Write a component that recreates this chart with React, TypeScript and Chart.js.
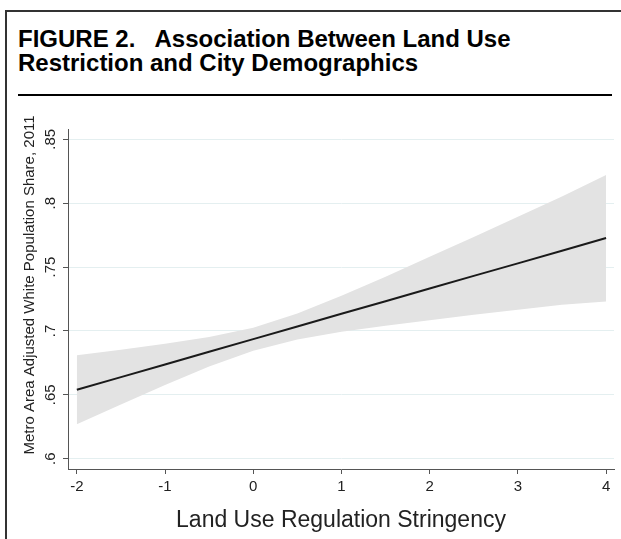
import React, { useEffect, useRef } from "react";
import { Chart, registerables } from "chart.js";

Chart.register(...registerables);

if (typeof document !== "undefined") {
  document.body.style.margin = "0";
}

const xValues = [-2, -1.5, -1, -0.5, 0, 0.5, 1, 1.5, 2, 2.5, 3, 3.5, 4];
const fitted = [0.654, 0.6639, 0.6738, 0.6837, 0.6936, 0.7035, 0.7134, 0.7233, 0.7332, 0.7431, 0.7529, 0.7628, 0.7727];
const ciLower = [0.627, 0.6425, 0.6577, 0.6722, 0.6846, 0.6933, 0.6993, 0.7041, 0.7084, 0.7126, 0.7165, 0.7205, 0.723];
const ciUpper = [0.681, 0.6853, 0.6899, 0.6953, 0.7026, 0.7137, 0.7275, 0.7425, 0.758, 0.7736, 0.7893, 0.8051, 0.822];

const xTicks = [-2, -1, 0, 1, 2, 3, 4];
const xTickLabels = ["-2", "-1", "0", "1", "2", "3", "4"];
const yTicks = [0.6, 0.65, 0.7, 0.75, 0.8, 0.85];
const yTickLabels = [".6", ".65", ".7", ".75", ".8", ".85"];

const titleLine1 = "FIGURE 2.   Association Between Land Use";
const titleLine2 = "Restriction and City Demographics";
const xTitle = "Land Use Regulation Stringency";
const yTitle = "Metro Area Adjusted White Population Share, 2011";

const FONT = "'Liberation Sans', Arial, Helvetica, sans-serif";

export default function App() {
  const ref = useRef<HTMLCanvasElement>(null);

  useEffect(() => {
    document.body.style.margin = "0";
    const canvas = ref.current;
    if (!canvas) return;

    const yLabelPlugin = {
      id: "rotatedYLabels",
      afterDraw(chart: any) {
        const c = chart.ctx;
        const ys = chart.scales.y;
        c.save();
        c.fillStyle = "#222";
        c.textAlign = "center";
        c.textBaseline = "middle";
        c.font = `15px ${FONT}`;
        yTicks.forEach((v, i) => {
          const py = ys.getPixelForValue(v);
          c.save();
          c.translate(51, py);
          c.rotate(-Math.PI / 2);
          c.fillText(yTickLabels[i], 0, 0);
          c.restore();
        });
        c.font = `15px ${FONT}`;
        c.save();
        c.translate(30, 185);
        c.rotate(-Math.PI / 2);
        c.fillText(yTitle, 0, 0);
        c.restore();
        c.restore();
      },
    };

    const chart = new Chart(canvas, {
      type: "line",
      data: {
        datasets: [
          {
            label: "Fitted",
            data: xValues.map((x, i) => ({ x, y: fitted[i] })),
            borderColor: "#1a1a1a",
            borderWidth: 2,
            pointRadius: 0,
            fill: false,
            tension: 0,
          },
          {
            label: "CI upper",
            data: xValues.map((x, i) => ({ x, y: ciUpper[i] })),
            borderWidth: 0,
            borderColor: "rgba(0,0,0,0)",
            backgroundColor: "#e3e3e3",
            pointRadius: 0,
            fill: "+1",
            tension: 0,
          },
          {
            label: "CI lower",
            data: xValues.map((x, i) => ({ x, y: ciLower[i] })),
            borderWidth: 0,
            borderColor: "rgba(0,0,0,0)",
            pointRadius: 0,
            fill: false,
            tension: 0,
          },
        ],
      },
      options: {
        animation: false,
        responsive: false,
        maintainAspectRatio: false,
        devicePixelRatio: 1,
        layout: { padding: { top: 29, right: 7, left: 0, bottom: 0 } },
        plugins: {
          legend: { display: false },
          tooltip: { enabled: false },
          filler: { drawTime: "beforeDatasetsDraw" },
        },
        scales: {
          x: {
            type: "linear",
            min: -2.1,
            max: 4.09,
            afterBuildTicks: (s: any) => {
              s.ticks = xTicks.map((v) => ({ value: v }));
            },
            afterFit: (s: any) => {
              s.height = 70;
            },
            grid: {
              drawOnChartArea: false,
              drawTicks: true,
              tickLength: 5,
              tickColor: "#555",
              color: "#555",
            },
            border: { display: true, color: "#555", width: 1 },
            ticks: {
              color: "#222",
              font: { size: 15, family: FONT },
              padding: 4,
              maxRotation: 0,
              autoSkip: false,
              callback: (v: any) => {
                const i = xTicks.indexOf(Number(v));
                return i >= 0 ? xTickLabels[i] : "";
              },
            },
            title: {
              display: true,
              text: xTitle,
              color: "#222",
              font: { size: 23, family: FONT },
              padding: { top: 0, bottom: 5 },
            },
          },
          y: {
            type: "linear",
            min: 0.592,
            max: 0.858,
            afterBuildTicks: (s: any) => {
              s.ticks = yTicks.map((v) => ({ value: v }));
            },
            afterFit: (s: any) => {
              s.width = 68;
            },
            grid: {
              color: "#e4eff0",
              lineWidth: 1,
              drawTicks: true,
              tickLength: 5,
              tickColor: "#555",
            },
            border: { display: true, color: "#555", width: 1 },
            ticks: { display: false },
          },
        },
      },
      plugins: [yLabelPlugin],
    } as any);

    return () => chart.destroy();
  }, []);

  return (
    <div
      style={{
        position: "relative",
        width: 621,
        height: 539,
        background: "#fff",
        overflow: "hidden",
        fontFamily: FONT,
      }}
    >
      <div
        style={{
          position: "absolute",
          left: 5,
          top: 10,
          width: 616,
          height: 529,
          borderTop: "2px solid #333",
          borderLeft: "2px solid #333",
          boxSizing: "border-box",
        }}
      />
      <div
        style={{
          position: "absolute",
          left: 18,
          top: 27,
          fontWeight: "bold",
          fontSize: 24,
          lineHeight: "24px",
          color: "#000",
          whiteSpace: "pre",
        }}
      >
        <div>{titleLine1}</div>
        <div>{titleLine2}</div>
      </div>
      <div
        style={{
          position: "absolute",
          left: 18,
          top: 94,
          width: 594,
          height: 2,
          background: "#000",
        }}
      />
      <canvas
        ref={ref}
        width={621}
        height={439}
        style={{ position: "absolute", left: 0, top: 100, width: 621, height: 439 }}
      />
    </div>
  );
}
